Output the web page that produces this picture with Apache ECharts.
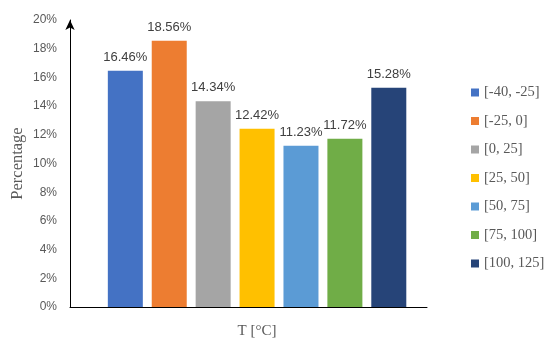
<!DOCTYPE html>
<html><head><meta charset="utf-8">
<script src="https://cdn.jsdelivr.net/npm/echarts@6/dist/echarts.min.js"></script>
<style>html,body{margin:0;padding:0;background:#fff}#c{width:550px;height:349px}</style>
</head><body><div id="c"></div>
<script>
const categories = ['[-40, -25]', '[-25, 0]', '[0, 25]', '[25, 50]', '[50, 75]', '[75, 100]', '[100, 125]'];
const values = [16.46, 18.56, 14.34, 12.42, 11.23, 11.72, 15.28];
const colors = ['#4472C4', '#ED7D31', '#A5A5A5', '#FFC000', '#5B9BD5', '#70AD47', '#264478'];
const yTicks = [0, 2, 4, 6, 8, 10, 12, 14, 16, 18, 20];

const chart = echarts.init(document.getElementById('c'), null, {renderer: 'canvas'});
const series = categories.map((name, i) => ({
  name: name,
  type: 'bar',
  barWidth: 35,
  barGap: '-100%',
  itemStyle: {color: colors[i]},
  label: {
    show: true, position: 'top', distance: 7,
    formatter: p => values[i].toFixed(2) + '%',
    color: '#404040', fontSize: 13, fontFamily: 'Liberation Sans'
  },
  data: [[i, values[i]]]
}));
chart.setOption({
  animation: false,
  grid: {left: 70, right: 123, top: 20, bottom: 42, outerBoundsMode: 'none', containLabel: false},
  legend: {
    orient: 'vertical', left: 466, top: 80,
    itemWidth: 8, itemHeight: 8, itemGap: 13.5, icon: 'rect',
    textStyle: {color: '#595959', fontSize: 14.5, fontFamily: 'Liberation Serif'},
    data: categories
  },
  xAxis: {
    type: 'value', min: -1.26, max: 6.87,
    name: 'T [°C]', nameLocation: 'middle', nameGap: 17, nameMoveOverlap: false,
    nameTextStyle: {color: '#595959', fontSize: 15, fontFamily: 'Liberation Serif', padding: [0, 0, 0, 17]},
    axisLine: {show: true, onZero: false, lineStyle: {color: '#000', width: 1}},
    axisTick: {show: false}, axisLabel: {show: false}, splitLine: {show: false}
  },
  yAxis: {
    type: 'value', min: yTicks[0], max: yTicks[yTicks.length - 1], interval: 2,
    name: 'Percentage', nameLocation: 'middle', nameGap: 44, nameMoveOverlap: false,
    nameTextStyle: {color: '#595959', fontSize: 16.5, fontFamily: 'Liberation Serif'},
    axisLine: {show: true, onZero: false, symbol: ['none', 'arrow'], symbolSize: [7, 10], lineStyle: {color: '#000', width: 1}},
    axisTick: {show: false},
    axisLabel: {formatter: '{value}%', color: '#595959', fontSize: 12, fontFamily: 'Liberation Sans', margin: 13},
    splitLine: {show: false}
  },
  series: series
});
</script></body></html>
